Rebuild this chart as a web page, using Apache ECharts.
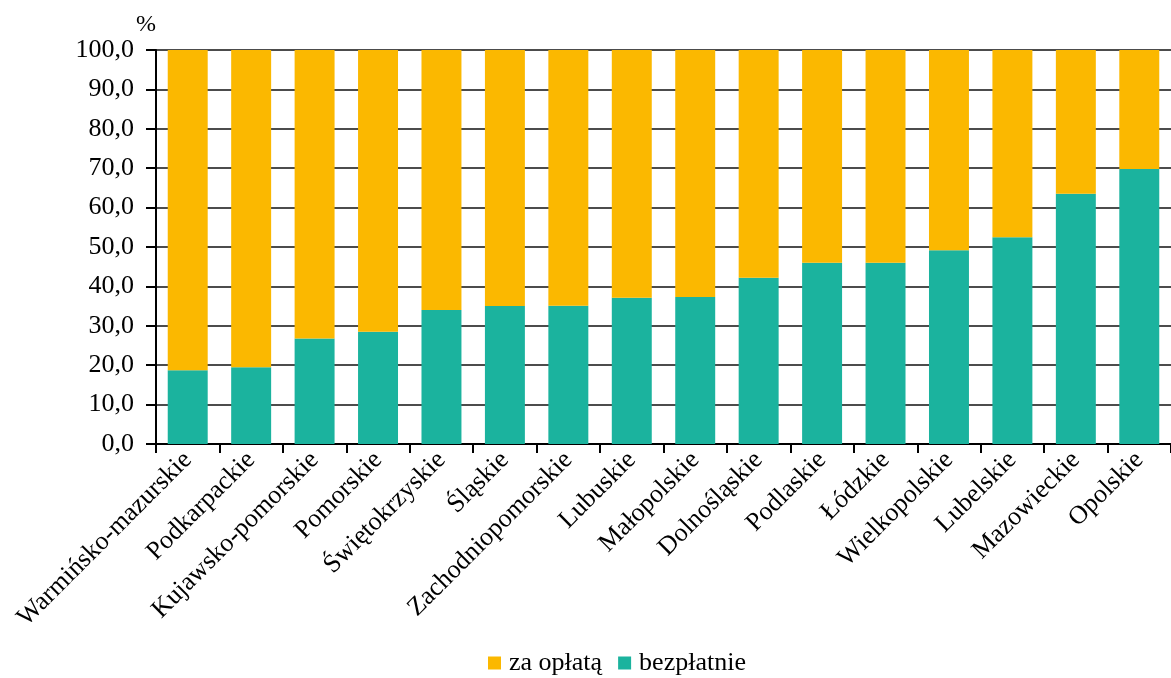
<!DOCTYPE html>
<html><head><meta charset="utf-8">
<script src="https://cdn.jsdelivr.net/npm/echarts@6/dist/echarts.min.js"></script>
<style>html,body{margin:0;padding:0;background:#fff}#c{width:1171px;height:678px}</style>
</head><body><div id="c"></div>
<script>
var categories = ["Warmińsko-mazurskie","Podkarpackie","Kujawsko-pomorskie","Pomorskie","Świętokrzyskie","Śląskie","Zachodniopomorskie","Lubuskie","Małopolskie","Dolnośląskie","Podlaskie","Łódzkie","Wielkopolskie","Lubelskie","Mazowieckie","Opolskie"];
var bezplatnie = [18.7,19.5,26.8,28.5,34.0,35.0,35.1,37.1,37.3,42.2,46.0,46.0,49.2,52.5,63.5,69.8];
var zaOplata = [81.3,80.5,73.2,71.5,66.0,65.0,64.9,62.9,62.7,57.8,54.0,54.0,50.8,47.5,36.5,30.2];
var yTicks = {min:0, max:100, interval:10};

var font = '"Liberation Serif","Times New Roman",serif';
var chart = echarts.init(document.getElementById('c'), null, {renderer:'canvas'});
chart.setOption({
  animation:false,
  backgroundColor:'#fff',
  grid:{left:156, right:-6, top:50, bottom:234, containLabel:false},
  legend:{
    data:['za opłatą','bezpłatnie'],
    bottom:-3, left:483,
    itemWidth:13, itemHeight:13, itemGap:16,
    icon:'rect',
    textStyle:{fontFamily:font, fontSize:26, color:'#000', padding:[0,0,0,3]}
  },
  xAxis:{
    type:'category', data:categories,
    axisLine:{lineStyle:{color:'#000', width:2}},
    axisTick:{show:true, length:9, lineStyle:{color:'#000', width:2}},
    axisLabel:{rotate:45, interval:0, margin:12, fontFamily:font, fontSize:26, color:'#000'}
  },
  yAxis:{
    type:'value', min:yTicks.min, max:yTicks.max, interval:yTicks.interval,
    name:'%', nameLocation:'end', nameGap:12,
    nameTextStyle:{fontFamily:font, fontSize:24, color:'#000', align:'right', padding:[0,0,0,0]},
    axisLine:{show:true, lineStyle:{color:'#000', width:2}},
    axisTick:{show:true, length:10, lineStyle:{color:'#000', width:2}},
    splitLine:{show:true, lineStyle:{color:'#111', width:1.5}},
    axisLabel:{margin:22, fontFamily:font, fontSize:26, color:'#000',
      formatter:function(v){return v.toFixed(1).replace('.',',');}}
  },
  series:[
    {name:'bezpłatnie', type:'bar', stack:'s', data:bezplatnie, barCategoryGap:'37%',
     itemStyle:{color:'#1BB39E'}},
    {name:'za opłatą', type:'bar', stack:'s', data:zaOplata, barCategoryGap:'37%',
     itemStyle:{color:'#FBB800'}}
  ]
});
</script></body></html>
